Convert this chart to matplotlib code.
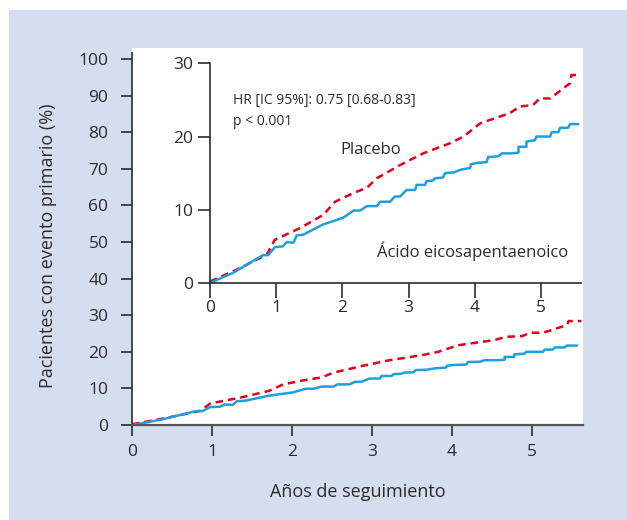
import matplotlib.pyplot as plt
from matplotlib.patches import Rectangle

plt.rcParams['font.family'] = ['Open Sans', 'DejaVu Sans']

# curves (years, % with primary event)
placebo_x = [0, 0.4, 0.86, 0.98, 1.36, 1.71, 1.89, 2.17, 2.37, 2.52, 2.87, 3.22,
             3.63, 3.83, 4.08, 4.53, 4.68, 4.88, 4.98, 5.14, 5.44, 5.46, 5.62]
placebo_y = [0.2, 1.8, 3.9, 5.9, 7.5, 9.3, 11.1, 12.3, 13.0, 14.3, 16.1, 17.7,
             19.1, 20.0, 21.8, 23.2, 24.1, 24.3, 25.2, 25.2, 27.3, 28.4, 28.4]

epa_x = [0, 0.35, 0.8, 0.88, 0.98, 1.1, 1.16, 1.26, 1.31, 1.41, 1.71, 2.01,
         2.17, 2.27, 2.37, 2.52, 2.57, 2.72, 2.79, 2.87, 2.97, 3.1, 3.12, 3.25,
         3.27, 3.37, 3.4, 3.52, 3.55, 3.68, 3.8, 3.93, 3.94, 4.03, 4.18, 4.2,
         4.35, 4.41, 4.56, 4.66, 4.66, 4.78, 4.78, 4.91, 4.93, 5.14, 5.16, 5.26,
         5.29, 5.41, 5.44, 5.56]
epa_y = [0, 1.4, 3.8, 3.8, 4.9, 5.0, 5.6, 5.5, 6.5, 6.6, 8.0, 8.9,
         9.9, 9.9, 10.5, 10.5, 11.1, 11.1, 11.8, 11.8, 12.7, 12.7, 13.4, 13.4,
         13.9, 14.0, 14.3, 14.4, 15.0, 15.1, 15.5, 15.7, 16.2, 16.4, 16.5, 17.2,
         17.3, 17.7, 17.7, 17.8, 18.6, 18.6, 19.3, 19.5, 20.0, 20.0, 20.6, 20.6,
         21.2, 21.2, 21.7, 21.7]

main_yticks = list(range(0, 101, 10))
inset_yticks = [0, 10, 20, 30]
xticks = [0, 1, 2, 3, 4, 5]

red = '#e2001a'
blue = '#1ea0dc'
txt = '#2b2b2b'

fig = plt.figure(figsize=(6.27, 5.2), dpi=100)
fig.patches.append(Rectangle((9 / 627, 0), 1, 510 / 520, transform=fig.transFigure,
                             facecolor='#d5deef', edgecolor='none', zorder=-1))

ax = fig.add_axes([132 / 627, 1 - 425 / 520, 451 / 627, 377 / 520])
ax.set_facecolor('white')
ax.plot(placebo_x, placebo_y, color=red, lw=1.8, dashes=(3, 2))
ax.plot(epa_x, epa_y, color=blue, lw=1.8)
ax.set_xlim(0, 5.64)
ax.set_ylim(0, 103)
ax.set_yticks(main_yticks)
ax.set_xticks(xticks)
for s in ['top', 'right']:
    ax.spines[s].set_visible(False)
ax.spines['left'].set_bounds(0, 101.5)
ax.spines['left'].set_color(txt)
ax.spines['bottom'].set_color('#555555')
ax.spines['left'].set_linewidth(1.2)
ax.spines['bottom'].set_linewidth(1.6)
ax.tick_params(direction='out', length=8, width=1.2, color=txt, labelcolor=txt,
               labelsize=12.5)
ax.tick_params(axis='y', pad=9)
ax.tick_params(axis='x', pad=6)
ax.set_xlabel('Años de seguimiento', fontsize=13, color=txt, labelpad=16)
ax.set_ylabel('Pacientes con evento primario (%)', fontsize=13, color=txt)
ax.yaxis.set_label_coords(-0.167, 0.475)

ins = fig.add_axes([210 / 627, 1 - 283 / 520, 370.7 / 627, 219.7 / 520])
ins.patch.set_alpha(0)
ins.plot(placebo_x, placebo_y, color=red, lw=1.8, dashes=(3, 2))
ins.plot(epa_x, epa_y, color=blue, lw=1.8)
ins.set_xlim(0, 5.6)
ins.set_ylim(0, 30)
ins.set_yticks(inset_yticks)
ins.set_xticks(xticks)
for s in ['top', 'right']:
    ins.spines[s].set_visible(False)
for s in ['left', 'bottom']:
    ins.spines[s].set_color(txt)
    ins.spines[s].set_linewidth(1.2)
ins.tick_params(direction='out', width=1.2, color=txt, labelcolor=txt,
                labelsize=12.5)
ins.tick_params(axis='y', length=9, pad=3)
ins.tick_params(axis='x', length=11, pad=1)

ins.text(0.35, 24.9, 'HR [IC 95%]: 0.75 [0.68-0.83]', fontsize=10, color=txt, va='center')
ins.text(0.35, 22.1, 'p < 0.001', fontsize=10, color=txt, va='center')
ins.text(2.42, 18.2, 'Placebo', fontsize=12, color=txt, ha='center', va='center')
ins.text(3.96, 4.4, 'Ácido eicosapentaenoico', fontsize=12, color=txt,
         ha='center', va='center')

fig.savefig('out.png', dpi=100, facecolor='white')
